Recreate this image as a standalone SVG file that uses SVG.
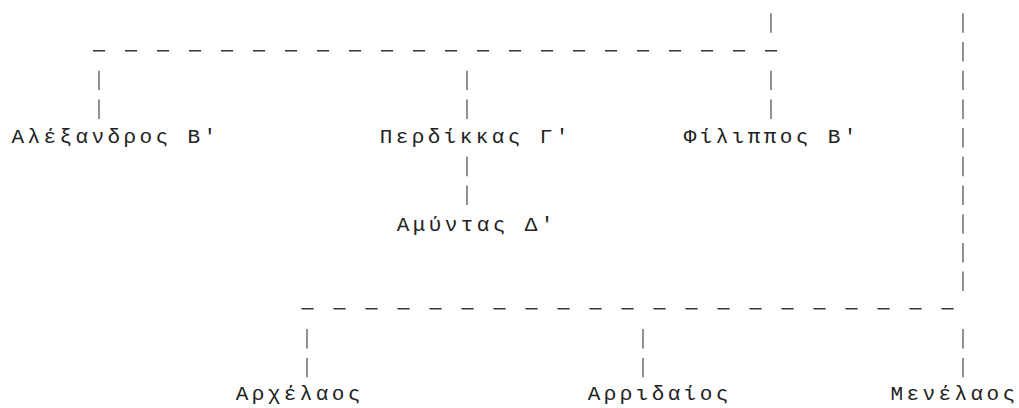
<svg xmlns="http://www.w3.org/2000/svg" width="1019" height="408" viewBox="0 0 1019 408">
<style>
  .bg { fill: #ffffff; }
  .name { font-family: "Liberation Mono", "DejaVu Sans Mono", monospace; font-size: 21px; letter-spacing: 3.4px; fill: #222222; }
  .dash { stroke: #333333; stroke-width: 1.4; stroke-dasharray: 12 20; fill: none; }
  .bar { stroke: #555555; stroke-width: 1.3; stroke-dasharray: 19.5 9.2; fill: none; }
</style>
<rect class="bg" x="0" y="0" width="1019" height="408"/>
<g id="connectors">
  <line class="bar" x1="771" y1="13.3" x2="771" y2="32.8"/>
  <line class="bar" x1="963" y1="13.3" x2="963" y2="291.1"/>
  <line class="dash" x1="93" y1="50.7" x2="777" y2="50.7"/>
  <line class="bar" x1="99" y1="70.7" x2="99" y2="118.9"/>
  <line class="bar" x1="467" y1="70.7" x2="467" y2="118.9"/>
  <line class="bar" x1="771" y1="70.7" x2="771" y2="118.9"/>
  <line class="bar" x1="467" y1="156.8" x2="467" y2="205"/>
  <line class="dash" x1="301.5" y1="308.7" x2="953.5" y2="308.7"/>
  <line class="bar" x1="307" y1="329" x2="307" y2="377.2"/>
  <line class="bar" x1="643" y1="329" x2="643" y2="377.2"/>
  <line class="bar" x1="963" y1="329" x2="963" y2="377.2"/>
</g>
<g id="alexandros">
  <text class="name" x="11.5" y="143">Αλέξανδρος Β'</text>
</g>
<g id="perdikkas">
  <text class="name" x="379.7" y="143">Περδίκκας Γ'</text>
</g>
<g id="philippos">
  <text class="name" x="683.7" y="143">Φίλιππος Β'</text>
</g>
<g id="amyntas">
  <text class="name" x="396.7" y="231">Αμύντας Δ'</text>
</g>
<g id="archelaos">
  <text class="name" x="235.7" y="400">Αρχέλαος</text>
</g>
<g id="arridaios">
  <text class="name" x="587.7" y="400">Αρριδαίος</text>
</g>
<g id="menelaos">
  <text class="name" x="890.5" y="400">Μενέλαος</text>
</g>
</svg>
